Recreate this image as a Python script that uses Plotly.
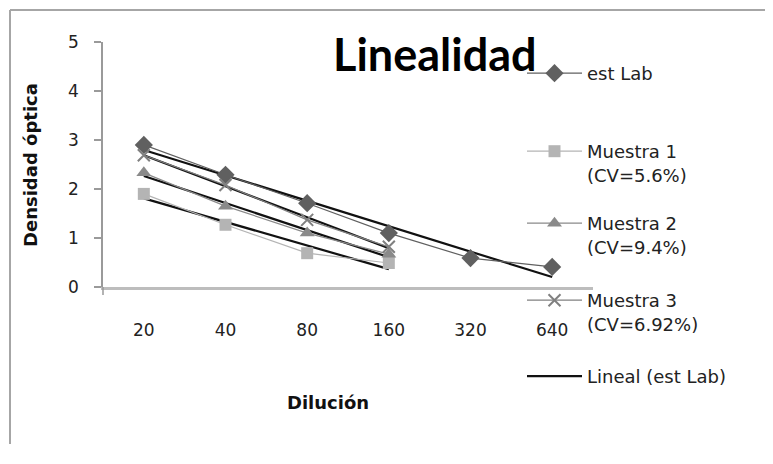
import numpy as np
import plotly.graph_objects as go

# ---- data ----
diluciones = ["20", "40", "80", "160", "320", "640"]
est_lab = [2.90, 2.29, 1.71, 1.10, 0.59, 0.41]
muestra1 = [1.90, 1.27, 0.69, 0.49]
muestra2 = [2.33, 1.65, 1.10, 0.67]
muestra3 = [2.69, 2.08, 1.37, 0.82]

nombres = ["est Lab", "Muestra 1<br>(CV=5.6%)", "Muestra 2<br>(CV=9.4%)", "Muestra 3<br>(CV=6.92%)"]
trend_name = "Lineal (est Lab)"
y_ticks = [0, 1, 2, 3, 4, 5]

# ---- layout geometry (px); page body adds an 8px margin on every side ----
OFF = 8
W, H = 773 - 2 * OFF, 464 - 2 * OFF - 12
L, T = 103 - OFF, 42 - OFF
PLOT_R, PLOT_B = 593 - OFF, 287 - OFF
R, B = W - PLOT_R, H - PLOT_B
PW, PH = PLOT_R - L, PLOT_B - T


def px_x(px):
    return (px - OFF - L) / PW


def px_y(py):
    return (PLOT_B - (py - OFF)) / PH


def trend(vals):
    idx = np.arange(1, len(vals) + 1)
    m, c = np.polyfit(idx, vals, 1)
    return list(m * idx + c)


series = [
    (est_lab, "diamond", "#606060", 14, "legend"),
    (muestra1, "square", "#b4b4b4", 12, "legend2"),
    (muestra2, "triangle-up", "#8a8a8a", 13, "legend3"),
    (muestra3, "x-thin", "#808080", 12, "legend4"),
]

fig = go.Figure()

# trendlines
for i, (vals, sym, col, size, lg) in enumerate(series):
    fig.add_trace(go.Scatter(
        x=diluciones[:len(vals)], y=trend(vals), mode="lines",
        line=dict(color="#111111", width=2.2),
        name=trend_name, showlegend=(i == 0), legend="legend5",
        hoverinfo="skip",
    ))

# series
for (vals, sym, col, size, lg), nm in zip(series, nombres):
    mk = dict(symbol=sym, size=size, color=col)
    if sym == "x-thin":
        mk["line"] = dict(color=col, width=2)
    else:
        mk["line"] = dict(width=0)
    fig.add_trace(go.Scatter(
        x=diluciones[:len(vals)], y=vals, mode="lines+markers",
        line=dict(color=col, width=1.2), marker=mk,
        name=nm, legend=lg,
    ))

legend_font = dict(family="DejaVu Sans", size=18, color="#222222")
leg_common = dict(font=legend_font, bgcolor="rgba(0,0,0,0)", borderwidth=0,
                  xanchor="left", yanchor="top", valign="top", itemwidth=55,
                  x=px_x(522))
legend_tops = [55, 133, 205, 282, 358]

border = dict(color="#a6a6a6", width=2)
x_right = (W - L) / PW        # right edge of the figure in paper units
y_bottom = -B / PH            # bottom edge of the figure in paper units

fig.update_layout(
    width=W, height=H,
    margin=dict(l=L, r=R, t=T, b=B),
    paper_bgcolor="white", plot_bgcolor="white",
    showlegend=True,
    legend=dict(**leg_common, y=px_y(legend_tops[0])),
    legend2=dict(**leg_common, y=px_y(legend_tops[1])),
    legend3=dict(**leg_common, y=px_y(legend_tops[2])),
    legend4=dict(**leg_common, y=px_y(legend_tops[3])),
    legend5=dict(**leg_common, y=px_y(legend_tops[4])),
    xaxis=dict(
        type="category", range=[-0.5, 5.5], showgrid=False, zeroline=False,
        showline=True, linecolor="#bdbdbd", linewidth=3, ticks="",
        tickfont=dict(family="DejaVu Sans", size=17, color="#222222"),
        ticklabelstandoff=26,
    ),
    yaxis=dict(
        range=[0, 5], tickvals=y_ticks, showgrid=False, zeroline=False,
        showline=True, linecolor="#9a9a9a", linewidth=1.5,
        ticks="outside", ticklen=7, tickcolor="#9a9a9a", tickwidth=1.5,
        tickfont=dict(family="DejaVu Sans", size=17, color="#222222"),
        ticklabelstandoff=12,
    ),
    annotations=[
        dict(text="<b>Linealidad</b>", x=px_x(435), y=px_y(54), xref="paper", yref="paper",
             showarrow=False, font=dict(family="Lato", size=45, color="#000000"),
             xanchor="center", yanchor="middle"),
        dict(text="<b>Dilución</b>", x=px_x(328), y=px_y(402), xref="paper", yref="paper",
             showarrow=False, font=dict(family="DejaVu Sans", size=18, color="#111111"),
             xanchor="center", yanchor="middle"),
        dict(text="<b>Densidad óptica</b>", x=px_x(30), y=px_y(165), xref="paper", yref="paper",
             showarrow=False, textangle=-90,
             font=dict(family="DejaVu Sans", size=18, color="#111111"),
             xanchor="center", yanchor="middle"),
    ],
    shapes=[
        # chart-area frame (left and top edges visible in the crop)
        dict(type="line", xref="paper", yref="paper",
             x0=px_x(10), x1=px_x(10), y0=y_bottom, y1=px_y(10), line=border, layer="below"),
        dict(type="line", xref="paper", yref="paper",
             x0=px_x(10), x1=x_right, y0=px_y(10), y1=px_y(10), line=border, layer="below"),
        # small extension of the value axis below zero
        dict(type="line", xref="paper", yref="paper",
             x0=0, x1=0, y0=px_y(295), y1=0, line=dict(color="#9a9a9a", width=1.5)),
    ],
)

fig.write_html("out.html")
